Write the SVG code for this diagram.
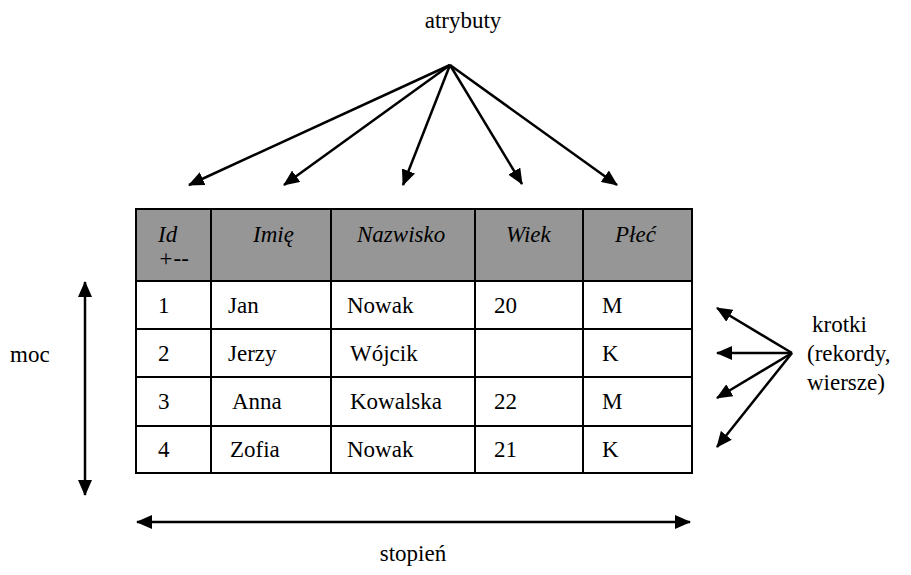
<svg xmlns="http://www.w3.org/2000/svg" width="911" height="575" viewBox="0 0 911 575">
  <defs>
    <marker id="tip" markerUnits="userSpaceOnUse" viewBox="0 0 16 14" refX="15" refY="7" markerWidth="16" markerHeight="14" orient="auto">
      <path d="M0,0 L16,7 L0,14 Z" fill="#000"/>
    </marker>
    <marker id="tipStart" markerUnits="userSpaceOnUse" viewBox="0 0 16 14" refX="1" refY="7" markerWidth="16" markerHeight="14" orient="auto">
      <path d="M16,0 L0,7 L16,14 Z" fill="#000"/>
    </marker>
  </defs>

  <rect width="911" height="575" fill="#fff"/>

  <!-- relation table -->
  <g id="table" stroke="#000" stroke-width="2">
    <g id="header-row">
      <g fill="#969696">
        <rect x="136" y="209" width="75" height="72"/>
        <rect x="211" y="209" width="120" height="72"/>
        <rect x="331" y="209" width="144" height="72"/>
        <rect x="475" y="209" width="108" height="72"/>
        <rect x="583" y="209" width="109" height="72"/>
      </g>
      <text font-family="Liberation Serif" font-size="23" font-style="italic" stroke="none" x="158" y="242">Id</text>
      <text font-family="Liberation Serif" font-size="23" font-style="italic" stroke="none" x="158" y="266">+--</text>
      <text font-family="Liberation Serif" font-size="23" font-style="italic" stroke="none" x="253" y="242">Imi&#281;</text>
      <text font-family="Liberation Serif" font-size="23" font-style="italic" stroke="none" x="357" y="242">Nazwisko</text>
      <text font-family="Liberation Serif" font-size="23" font-style="italic" stroke="none" x="506" y="242">Wiek</text>
      <text font-family="Liberation Serif" font-size="23" font-style="italic" stroke="none" x="615" y="242">P&#322;e&#263;</text>
    </g>
    <g id="row-1">
      <g fill="#fff">
        <rect x="136" y="281" width="75" height="48"/>
        <rect x="211" y="281" width="120" height="48"/>
        <rect x="331" y="281" width="144" height="48"/>
        <rect x="475" y="281" width="108" height="48"/>
        <rect x="583" y="281" width="109" height="48"/>
      </g>
      <text font-family="Liberation Serif" font-size="23" stroke="none" x="158" y="313">1</text>
      <text font-family="Liberation Serif" font-size="23" stroke="none" x="228" y="313">Jan</text>
      <text font-family="Liberation Serif" font-size="23" stroke="none" x="347" y="313">Nowak</text>
      <text font-family="Liberation Serif" font-size="23" stroke="none" x="494" y="313">20</text>
      <text font-family="Liberation Serif" font-size="23" stroke="none" x="602" y="313">M</text>
    </g>
    <g id="row-2">
      <g fill="#fff">
        <rect x="136" y="329" width="75" height="48"/>
        <rect x="211" y="329" width="120" height="48"/>
        <rect x="331" y="329" width="144" height="48"/>
        <rect x="475" y="329" width="108" height="48"/>
        <rect x="583" y="329" width="109" height="48"/>
      </g>
      <text font-family="Liberation Serif" font-size="23" stroke="none" x="158" y="361">2</text>
      <text font-family="Liberation Serif" font-size="23" stroke="none" x="228" y="361">Jerzy</text>
      <text font-family="Liberation Serif" font-size="23" stroke="none" x="350" y="361">W&#243;jcik</text>
      <text font-family="Liberation Serif" font-size="23" stroke="none" x="602" y="361">K</text>
    </g>
    <g id="row-3">
      <g fill="#fff">
        <rect x="136" y="377" width="75" height="49"/>
        <rect x="211" y="377" width="120" height="49"/>
        <rect x="331" y="377" width="144" height="49"/>
        <rect x="475" y="377" width="108" height="49"/>
        <rect x="583" y="377" width="109" height="49"/>
      </g>
      <text font-family="Liberation Serif" font-size="23" stroke="none" x="158" y="409">3</text>
      <text font-family="Liberation Serif" font-size="23" stroke="none" x="232" y="409">Anna</text>
      <text font-family="Liberation Serif" font-size="23" stroke="none" x="350" y="409">Kowalska</text>
      <text font-family="Liberation Serif" font-size="23" stroke="none" x="494" y="409">22</text>
      <text font-family="Liberation Serif" font-size="23" stroke="none" x="602" y="409">M</text>
    </g>
    <g id="row-4">
      <g fill="#fff">
        <rect x="136" y="426" width="75" height="47"/>
        <rect x="211" y="426" width="120" height="47"/>
        <rect x="331" y="426" width="144" height="47"/>
        <rect x="475" y="426" width="108" height="47"/>
        <rect x="583" y="426" width="109" height="47"/>
      </g>
      <text font-family="Liberation Serif" font-size="23" stroke="none" x="158" y="457">4</text>
      <text font-family="Liberation Serif" font-size="23" stroke="none" x="230" y="457">Zofia</text>
      <text font-family="Liberation Serif" font-size="23" stroke="none" x="347" y="457">Nowak</text>
      <text font-family="Liberation Serif" font-size="23" stroke="none" x="494" y="457">21</text>
      <text font-family="Liberation Serif" font-size="23" stroke="none" x="602" y="457">K</text>
    </g>
  </g>

  <!-- labels -->
  <g id="label-atrybuty"><text font-family="Liberation Serif" font-size="23" x="463" y="28" text-anchor="middle">atrybuty</text></g>
  <g id="label-moc"><text font-family="Liberation Serif" font-size="23" x="10" y="362">moc</text></g>
  <g id="label-krotki">
    <text font-family="Liberation Serif" font-size="23" x="812" y="332">krotki</text>
    <text font-family="Liberation Serif" font-size="23" x="807" y="361">(rekordy,</text>
    <text font-family="Liberation Serif" font-size="23" x="807" y="390">wiersze)</text>
  </g>
  <g id="label-stopien"><text font-family="Liberation Serif" font-size="23" x="413" y="561" text-anchor="middle">stopie&#324;</text></g>

  <!-- connectors -->
  <g id="connectors" stroke="#000" stroke-width="2.5" fill="none" marker-end="url(#tip)">
    <line x1="450" y1="65" x2="189" y2="185"/>
    <line x1="450" y1="65" x2="284" y2="185"/>
    <line x1="450" y1="65" x2="403" y2="185"/>
    <line x1="450" y1="65" x2="522" y2="184"/>
    <line x1="450" y1="65" x2="617" y2="185"/>

    <line x1="792" y1="353" x2="717" y2="308"/>
    <line x1="792" y1="353" x2="717" y2="353"/>
    <line x1="792" y1="353" x2="717" y2="398"/>
    <line x1="792" y1="353" x2="717" y2="447"/>

    <line marker-start="url(#tipStart)" x1="85" y1="282" x2="85" y2="495"/>
    <line marker-start="url(#tipStart)" x1="137" y1="522" x2="690" y2="522"/>
  </g>
</svg>
